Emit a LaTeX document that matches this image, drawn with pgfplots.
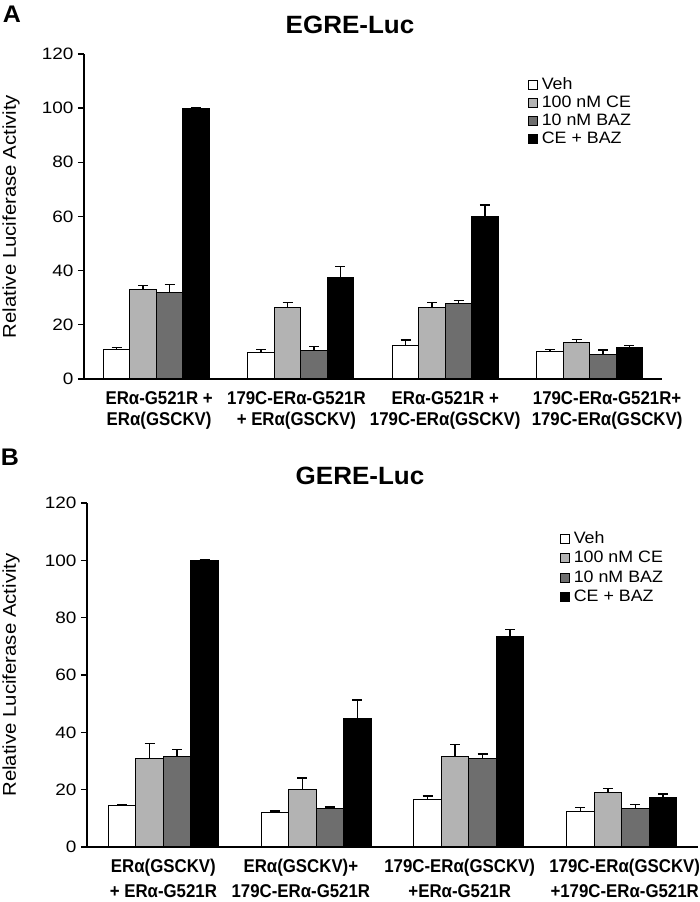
\documentclass[border=0pt]{standalone}
\usepackage{fontspec}
\setmainfont{Liberation Sans}
\newfontfamily\tickfont[FakeStretch=1.15]{Liberation Sans}
\newfontfamily\ylabfont[FakeStretch=1.1]{Liberation Sans}
\newfontfamily\legfont[FakeStretch=1.08]{Liberation Sans}
\newfontfamily\labfont[FakeStretch=0.91]{Liberation Sans}
\newfontfamily\titfont[FakeStretch=1.04]{Liberation Sans}
\usepackage{pgfplots}
\usepackage{pgfplotstable}
\pgfplotsset{compat=1.18}

\definecolor{lg}{RGB}{179,179,179}
\definecolor{dg}{RGB}{110,110,110}

\pgfplotstableread{
x veh vehe ce cee baz baze cb cbe
0 11.0 0.6 33.1 1.3 31.8 3.0 100.0 0.0
1 9.7 1.2 26.3 2.0 10.5 1.6 37.5 4.1
2 12.3 2.1 26.3 2.0 28.0 1.1 59.9 4.3
3 10.0 1.0 13.3 1.4 9.0 1.7 11.6 0.7
}\dataA

\pgfplotstableread{
x veh vehe ce cee baz baze cb cbe
0 14.4 0.5 31.0 5.2 31.6 2.4 100.0 0.3
1 12.1 0.5 20.2 3.9 13.6 0.4 44.9 6.4
2 16.6 1.2 31.7 4.0 31.0 1.4 73.6 2.3
3 12.4 1.5 19.1 1.2 13.6 1.3 17.3 1.2
}\dataB

\pgfplotsset{
  mybar/.style={
    scale only axis, ybar=0pt, ymin=0, ymax=120, xmin=-0.5, xmax=3.5,
    axis x line*=bottom, axis y line*=left,
    axis line style={-, line width=1.3bp, black},
    ytick={0,20,...,120},
    tick align=outside, major tick length=6bp,
    y tick style={line width=1.3bp, black},
    x tick style={draw=none},
    yticklabel style={font=\tickfont\fontsize{16.5bp}{19bp}\selectfont, xshift=-1bp},
    /pgf/number format/assume math mode=true,
    xticklabel style={align=center, yshift=-3bp},
    every axis y label/.style={rotate=90, anchor=center, font=\ylabfont\fontsize{18.5bp}{22bp}\selectfont},
    ylabel={Relative Luciferase Activity},
    legend cell align=left,
    legend style={draw=none, fill=none, anchor=north west, inner sep=0pt, outer sep=0pt,
      font=\legfont\fontsize{16.5bp}{18bp}\selectfont,
      nodes={inner sep=1bp, text height=12bp, text depth=3.5bp},
      /tikz/every odd column/.append style={column sep=3bp}},
    error bars/error bar style={black, line width=1.3bp},
    error bars/error mark options={rotate=90, mark size=5bp, line width=1.3bp, black},
    clip=false,
  },
  sq/.style={legend image code/.code={\draw[##1, line width=0.9bp] (0bp,-4.5bp) rectangle (9bp,4.5bp);}},
}

\begin{document}
\begin{tikzpicture}[x=1bp,y=1bp]
\useasboundingbox (0,0) rectangle (700,902);

\node[font=\bfseries\titfont\fontsize{24bp}{28bp}\selectfont] at (12,888) {A};
\node[font=\bfseries\titfont\fontsize{25bp}{30bp}\selectfont] at (350,877) {EGRE-Luc};

\begin{axis}[mybar, at={(84bp,523bp)}, anchor=south west, width=578bp, height=325bp,
  bar width=0.183,
  every axis y label/.append style={at={(axis description cs:-0.1263,0.5)}},
  xtick={0.02,0.97,2,3.12},
  xticklabel style={font=\bfseries\labfont\fontsize{18.5bp}{21bp}\selectfont},
  xticklabels={{ERα-G521R +\\ERα(GSCKV)},{179C-ERα-G521R\\+ ERα(GSCKV)},{ERα-G521R +\\179C-ERα(GSCKV)},{179C-ERα-G521R+\\179C-ERα(GSCKV)}},
  legend style={at={(axis description cs:0.768,0.932)}, row sep=0.5bp},
]
\addplot[sq, fill=white, draw=black, line width=1bp, bar shift=-0.275, error bars/.cd, y dir=plus, y explicit] table[x=x, y=veh, y error=vehe]{\dataA};
\addplot[sq, fill=lg, draw=black, line width=1bp, bar shift=-0.0917, error bars/.cd, y dir=plus, y explicit] table[x=x, y=ce, y error=cee]{\dataA};
\addplot[sq, fill=dg, draw=black, line width=1bp, bar shift=0.0917, error bars/.cd, y dir=plus, y explicit] table[x=x, y=baz, y error=baze]{\dataA};
\addplot[sq, fill=black, draw=black, line width=1bp, bar shift=0.275, error bars/.cd, y dir=plus, y explicit] table[x=x, y=cb, y error=cbe]{\dataA};
\legend{Veh, 100 nM CE, 10 nM BAZ, CE + BAZ}
\end{axis}

\node[font=\bfseries\titfont\fontsize{24bp}{28bp}\selectfont] at (10,445) {B};
\node[font=\bfseries\titfont\fontsize{25bp}{30bp}\selectfont] at (360,426) {GERE-Luc};

\begin{axis}[mybar, at={(87bp,55bp)}, anchor=south west, width=611bp, height=344bp,
  bar width=0.18,
  every axis y label/.append style={at={(axis description cs:-0.1244,0.5)}},
  xtick={0,0.9,1.94,3.02},
  xticklabel style={font=\bfseries\labfont\fontsize{18.5bp}{25bp}\selectfont},
  xticklabels={{ERα(GSCKV)\\+ ERα-G521R},{ERα(GSCKV)+\\179C-ERα-G521R},{179C-ERα(GSCKV)\\+ERα-G521R},{179C-ERα(GSCKV)\\+179C-ERα-G521R}},
  legend style={at={(axis description cs:0.774,0.921)}, row sep=2bp},
]
\addplot[sq, fill=white, draw=black, line width=1bp, bar shift=-0.27, error bars/.cd, y dir=plus, y explicit] table[x=x, y=veh, y error=vehe]{\dataB};
\addplot[sq, fill=lg, draw=black, line width=1bp, bar shift=-0.09, error bars/.cd, y dir=plus, y explicit] table[x=x, y=ce, y error=cee]{\dataB};
\addplot[sq, fill=dg, draw=black, line width=1bp, bar shift=0.09, error bars/.cd, y dir=plus, y explicit] table[x=x, y=baz, y error=baze]{\dataB};
\addplot[sq, fill=black, draw=black, line width=1bp, bar shift=0.27, error bars/.cd, y dir=plus, y explicit] table[x=x, y=cb, y error=cbe]{\dataB};
\legend{Veh, 100 nM CE, 10 nM BAZ, CE + BAZ}
\end{axis}
\end{tikzpicture}
\end{document}
